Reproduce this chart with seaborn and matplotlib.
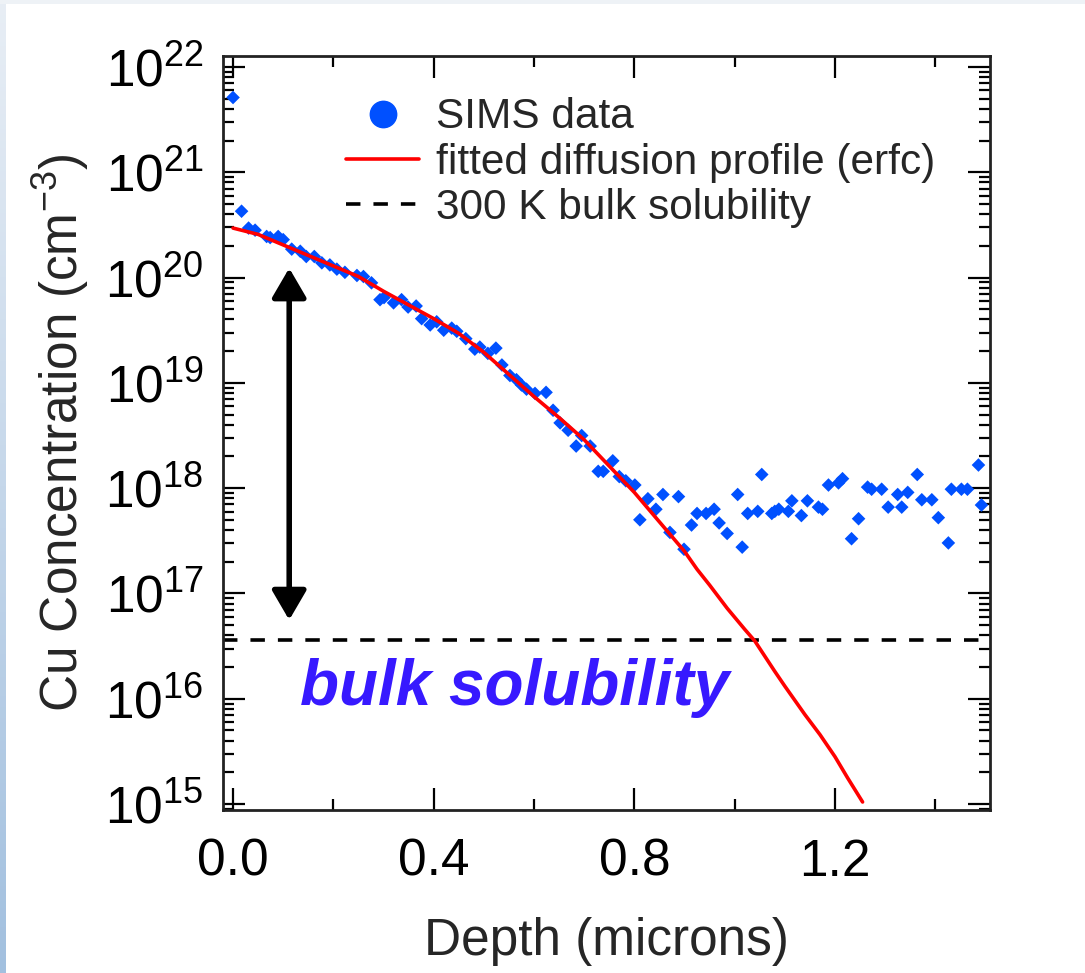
import numpy as np
import pandas as pd
import matplotlib
matplotlib.use("Agg")
import matplotlib.pyplot as plt
import seaborn as sns
from matplotlib.lines import Line2D
from matplotlib.colors import LinearSegmentedColormap
from matplotlib.ticker import FixedLocator, LogLocator, NullFormatter, FixedFormatter

# ---------------- data ----------------
sims_depth = [0.000, 0.017, 0.031, 0.044, 0.067, 0.074, 0.090, 0.100, 0.117, 0.134,
              0.146, 0.162, 0.177, 0.193, 0.207, 0.223, 0.247, 0.260, 0.276, 0.293,
              0.301, 0.320, 0.336, 0.349, 0.365, 0.376, 0.393, 0.406, 0.420, 0.436,
              0.446, 0.464, 0.482, 0.492, 0.508, 0.524, 0.536, 0.552, 0.565, 0.575,
              0.585, 0.602, 0.624, 0.638, 0.652, 0.668, 0.684, 0.695, 0.712, 0.728,
              0.738, 0.757, 0.770, 0.783, 0.801, 0.811, 0.827, 0.843, 0.857, 0.871,
              0.888, 0.899, 0.914, 0.925, 0.943, 0.959, 0.969, 0.985, 1.006, 1.015,
              1.026, 1.046, 1.054, 1.074, 1.080, 1.088, 1.107, 1.114, 1.133, 1.145,
              1.167, 1.175, 1.187, 1.207, 1.215, 1.233, 1.247, 1.265, 1.273, 1.293,
              1.306, 1.325, 1.333, 1.345, 1.364, 1.373, 1.393, 1.406, 1.426, 1.432,
              1.452, 1.464, 1.486, 1.492]
sims_log10_conc = [21.71, 20.63, 20.47, 20.45, 20.39, 20.38, 20.39, 20.36, 20.27, 20.25,
                   20.20, 20.20, 20.14, 20.12, 20.08, 20.05, 20.02, 20.01, 19.95, 19.79,
                   19.81, 19.76, 19.79, 19.72, 19.73, 19.61, 19.55, 19.58, 19.50, 19.52,
                   19.49, 19.42, 19.32, 19.34, 19.28, 19.33, 19.17, 19.07, 19.03, 18.98,
                   18.94, 18.90, 18.91, 18.74, 18.62, 18.55, 18.40, 18.50, 18.40, 18.16,
                   18.16, 18.26, 18.11, 18.07, 18.03, 17.70, 17.90, 17.80, 17.94, 17.58,
                   17.92, 17.42, 17.65, 17.76, 17.76, 17.80, 17.67, 17.57, 17.94, 17.44,
                   17.76, 17.78, 18.13, 17.76, 17.78, 17.80, 17.78, 17.88, 17.74, 17.88,
                   17.82, 17.80, 18.03, 18.05, 18.09, 17.52, 17.71, 18.01, 17.99, 17.99,
                   17.82, 17.94, 17.82, 17.96, 18.13, 17.89, 17.89, 17.72, 17.48, 17.99,
                   17.99, 17.99, 18.22, 17.84]

fit_depth = [0.00, 0.05, 0.10, 0.15, 0.20, 0.25, 0.30, 0.35, 0.40, 0.45, 0.50, 0.55,
             0.60, 0.65, 0.70, 0.75, 0.80, 0.85, 0.90, 0.925, 0.95, 0.985, 1.02, 1.04,
             1.08, 1.10, 1.14, 1.17, 1.20, 1.225, 1.255]
fit_log10_conc = [20.47, 20.41, 20.31, 20.21, 20.11, 20.01, 19.87, 19.74, 19.61, 19.47,
                  19.29, 19.08, 18.87, 18.67, 18.46, 18.21, 17.96, 17.68, 17.40, 17.23,
                  17.08, 16.86, 16.66, 16.55, 16.26, 16.12, 15.85, 15.66, 15.45, 15.25,
                  15.02]

bulk_solubility = 3.6e16
arrow_depth = 0.112
arrow_top = 1.23e20
arrow_bottom = 5.6e16

x_ticks = [0.0, 0.4, 0.8, 1.2]
x_minor_ticks = [0.2, 0.6, 1.0, 1.4]
x_tick_labels = ["0.0", "0.4", "0.8", "1.2"]
y_exponents = [15, 16, 17, 18, 19, 20, 21, 22]
legend_labels = ["SIMS data", "fitted diffusion profile (erfc)", "300 K bulk solubility"]
annotation_text = "bulk solubility"
x_label = "Depth (microns)"
y_label = "Cu Concentration (cm$^{\\mathdefault{-3}}$)"

# ---------------- style ----------------
sns.set_style("ticks")
plt.rcParams["font.family"] = ["Liberation Sans", "DejaVu Sans"]
plt.rcParams["mathtext.default"] = "regular"
plt.rcParams["mathtext.fontset"] = "custom"
plt.rcParams["mathtext.rm"] = "Liberation Sans"
plt.rcParams["axes.unicode_minus"] = False

W, H = 1085, 973
fig = plt.figure(figsize=(W / 100, H / 100), dpi=100, facecolor="white")

# decorative slide edges
bg_left = fig.add_axes([0, 0, 6 / W, 1], zorder=-5)
grad = np.linspace(0, 1, 256).reshape(-1, 1)
cm_edge = LinearSegmentedColormap.from_list("edge", ["#e8eef5", "#a2c0df"])
bg_left.imshow(grad, aspect="auto", cmap=cm_edge, extent=[0, 1, 0, 1], origin="upper")
bg_left.set_axis_off()
bg_top = fig.add_axes([0, 1 - 4 / H, 1, 4 / H], zorder=-5)
bg_top.set_facecolor("#eef2f6")
bg_top.set_xticks([]); bg_top.set_yticks([])
for s in bg_top.spines.values():
    s.set_visible(False)

ax = fig.add_axes([223 / W, 1 - 810 / H, (990 - 223) / W, (810 - 56) / H])

sims_df = pd.DataFrame({"depth": sims_depth, "conc": 10 ** np.array(sims_log10_conc)})
fit_df = pd.DataFrame({"depth": fit_depth, "conc": 10 ** np.array(fit_log10_conc)})

sims_color = "#0050ff"
sns.scatterplot(data=sims_df, x="depth", y="conc", marker="D", s=48, color=sims_color,
                edgecolor="none", ax=ax, zorder=3, legend=False)
sns.lineplot(data=fit_df, x="depth", y="conc", color="#ff0000", lw=2.6, ax=ax,
             zorder=4, legend=False, estimator=None, sort=False)
ax.axhline(bulk_solubility, color="black", lw=2.6, ls=(0, (4, 3.6)), zorder=2)

ax.set_yscale("log")
ax.set_xlim(-0.02, 1.509)
ax.set_ylim(10 ** 14.944, 10 ** 22.104)

ax.xaxis.set_major_locator(FixedLocator(x_ticks))
ax.xaxis.set_major_formatter(FixedFormatter(x_tick_labels))
ax.xaxis.set_minor_locator(FixedLocator(x_minor_ticks))
ax.yaxis.set_major_locator(FixedLocator([10.0 ** e for e in y_exponents]))
ax.yaxis.set_major_formatter(FixedFormatter(["$\\mathdefault{10^{%d}}$" % e for e in y_exponents]))
ax.yaxis.set_minor_locator(LogLocator(base=10, subs=np.arange(2, 10), numticks=50))
ax.yaxis.set_minor_formatter(NullFormatter())

ax.tick_params(which="both", direction="in", top=True, right=True, width=1.6, colors="black")
ax.tick_params(which="major", length=16)
ax.tick_params(which="minor", length=8)
ax.tick_params(axis="x", which="major", labelsize=37, pad=20)
ax.tick_params(axis="y", which="major", labelsize=37, pad=14)
for s in ax.spines.values():
    s.set_linewidth(2)
    s.set_color("#222222")

ax.set_xlabel(x_label, fontsize=37, labelpad=22)
ax.set_ylabel(y_label, fontsize=37, labelpad=10)

handles = [
    Line2D([], [], marker="o", ls="none", color=sims_color, ms=19),
    Line2D([], [], color="#ff0000", lw=2.6),
    Line2D([], [], color="black", lw=2.6, ls=(0, (4, 3.6))),
]
ax.legend(handles, legend_labels, loc="upper left", bbox_to_anchor=(0.161, 0.945),
          frameon=False, fontsize=30.5, handlelength=1.72, handletextpad=0.4,
          labelspacing=0.12, borderaxespad=0, borderpad=0)

ax.annotate("", xy=(arrow_depth, arrow_bottom), xytext=(arrow_depth, arrow_top),
            arrowprops=dict(arrowstyle="<|-|>,head_length=0.6,head_width=0.35",
                            color="black", lw=4, mutation_scale=30, shrinkA=0, shrinkB=0),
            zorder=5)

ax.text(0.134, 10 ** 16.10, annotation_text, color="#3719ff", fontsize=46,
        fontweight="bold", fontstyle="italic", va="center", ha="left", zorder=5)

fig.savefig("out.png", dpi=100, facecolor="white")
